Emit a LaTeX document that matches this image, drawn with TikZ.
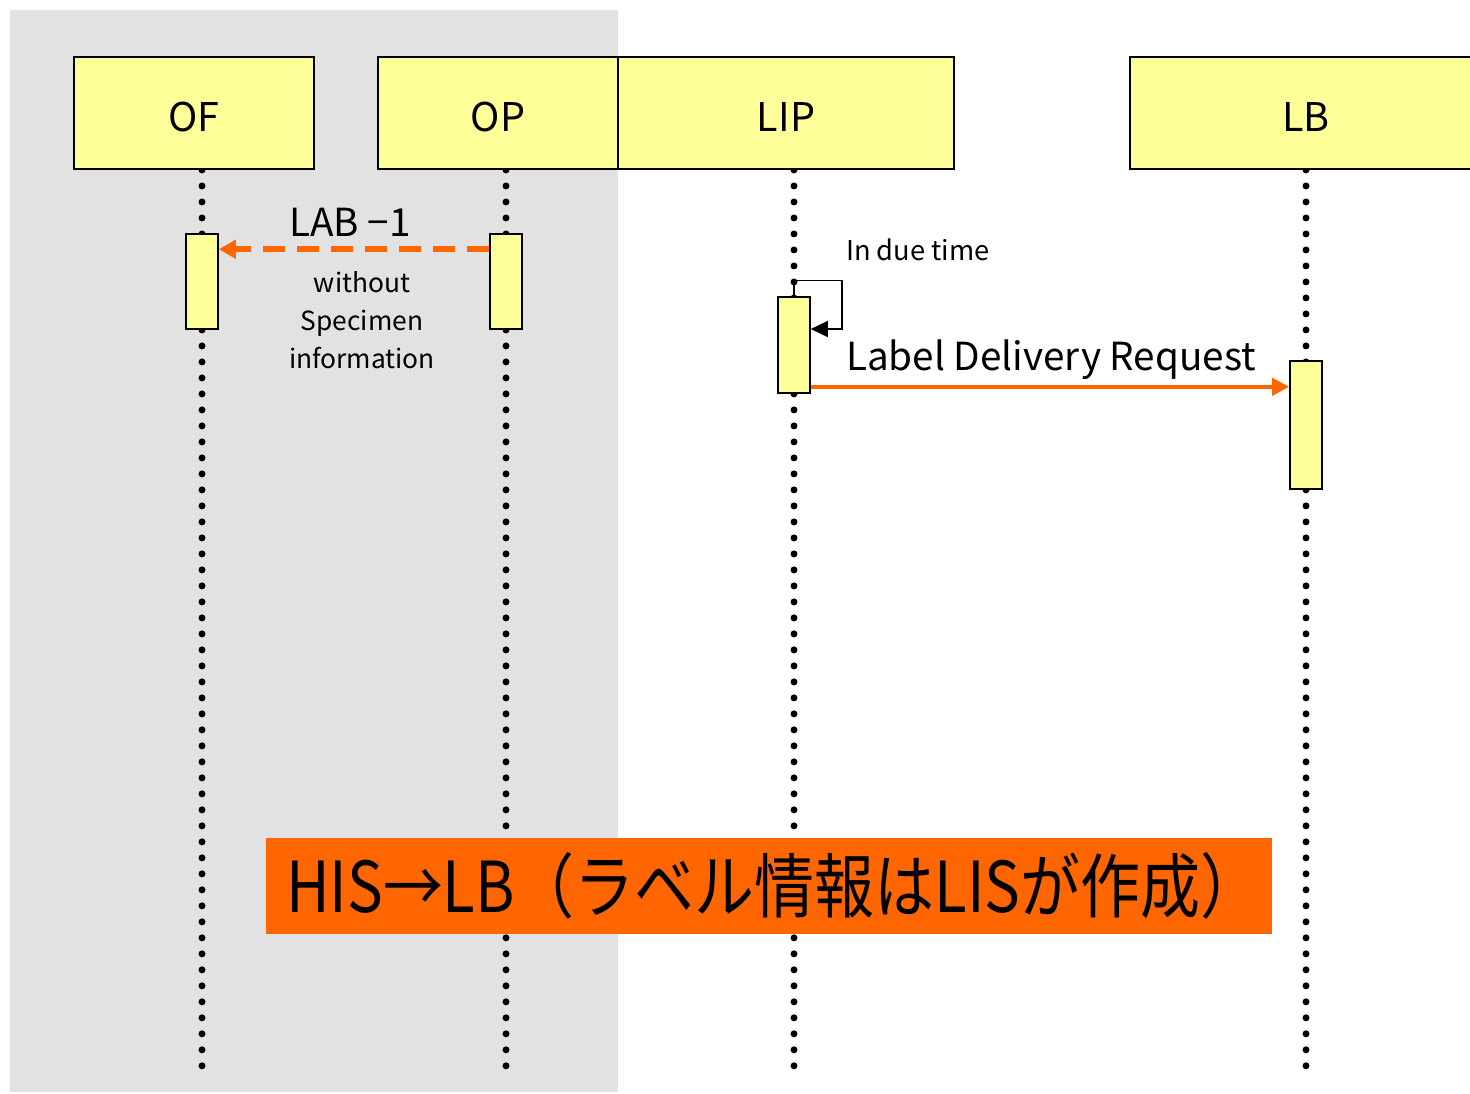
\documentclass[tikz,border=0pt]{standalone}
\usepackage{fontspec}
\setmainfont{Noto Sans CJK JP}
\usetikzlibrary{arrows.meta}
\definecolor{boxyellow}{HTML}{FFFF99}
\definecolor{msgorange}{HTML}{FF6600}
\definecolor{bggray}{HTML}{E2E2E2}
\pgfdeclarelayer{back}
\pgfsetlayers{back,main}
\tikzset{
    role box/.style={draw,fill=boxyellow,line width=1.1pt,inner sep=0pt,
                     minimum height=2.24cm,text height=0.72cm,text depth=0pt,
                     font=\fontsize{22.5}{22.5}\selectfont},
    act box/.style={draw,fill=boxyellow,line width=0.9pt,inner sep=0pt,minimum width=0.64cm},
    life line/.style={line width=0.14cm,line cap=round,dash pattern=on 0pt off 0.32cm},
    msg orange/.style={draw=msgorange,line width=2.2pt,-{Triangle[length=0.34cm,width=0.34cm]}},
    msg dashed/.style={draw=msgorange,line width=3.2pt,dash pattern=on 0.44cm off 0.24cm,
                       -{Triangle[length=0.34cm,width=0.36cm]}},
    msg self/.style={draw,line width=0.8pt,-{Triangle[length=0.34cm,width=0.32cm]}},
}

\begin{document}
\begin{tikzpicture}[x=0.02cm,y=-0.02cm]
\useasboundingbox (0,0) rectangle (1470,1093);
\begin{pgfonlayer}{back}
\fill [bggray] (10,10) rectangle (618,1092);
\end{pgfonlayer}
\coordinate (bottom) at (0,1068);

% role boxes
\node [role box,minimum width=4.8cm] (of) at (194,113) {OF};
\node [role box,minimum width=4.8cm] (op) at (498,113) {OP};
\node [role box,minimum width=6.72cm] (lip) at (786,113) {LIP};
\node [role box,minimum width=7.04cm] (lb) at (1306,113) {LB};

% activations
\node [act box,minimum height=1.9cm] (ofact) at (202,281.5) {};
\node [act box,minimum height=1.9cm] (opact) at (506,281.5) {};
\node [act box,minimum height=1.92cm] (lipact) at (794,345) {};
\node [act box,minimum height=2.56cm] (lbact) at (1306,425) {};

% lifelines
\begin{pgfonlayer}{back}
\draw [life line] (ofact |- of.south) -- (ofact |- bottom);
\draw [life line] (opact |- op.south) -- (opact |- bottom);
\draw [life line] (lipact |- lip.south) -- (lipact |- bottom);
\draw [life line] (lbact |- lb.south) -- (lbact |- bottom);
\end{pgfonlayer}

% messages
\draw [msg dashed] ([yshift=-0.32cm]opact.north west) -- ([yshift=-0.32cm]ofact.north east);
\node [font=\fontsize{22}{22}\selectfont] (lab) at (350,222) {LAB −1};
\node [align=center,font=\fontsize{15}{21.5}\selectfont] (labnote) at (362,320)
      {without\\Specimen\\information};

\coordinate (selfup) at ([yshift=0.32cm]lipact.north);
\coordinate (selfturn) at (842,329);
\draw [msg self] (lipact.north) -- (selfup) -- (selfup -| selfturn)
      -- (selfturn) -- (selfturn -| lipact.east);
\node [anchor=west,font=\fontsize{15.5}{15.5}\selectfont] (duetime) at (840,250) {In due time};

\coordinate (reqstart) at ([yshift=0.14cm]lipact.south east);
\draw [msg orange] (reqstart) -- (reqstart -| lbact.west);
\node [anchor=west,font=\fontsize{22}{22}\selectfont] (req) at (840,360) {Label Delivery Request};

% banner
\node [fill=msgorange,inner sep=0pt,minimum width=20.12cm,minimum height=1.92cm,
       text width=19.32cm,align=left] (banner) at (769,886)
      {\fontsize{40}{40}\selectfont\scalebox{0.853}[1]{HIS→LB（ラベル情報はLISが作成）}};

\end{tikzpicture}
\end{document}
